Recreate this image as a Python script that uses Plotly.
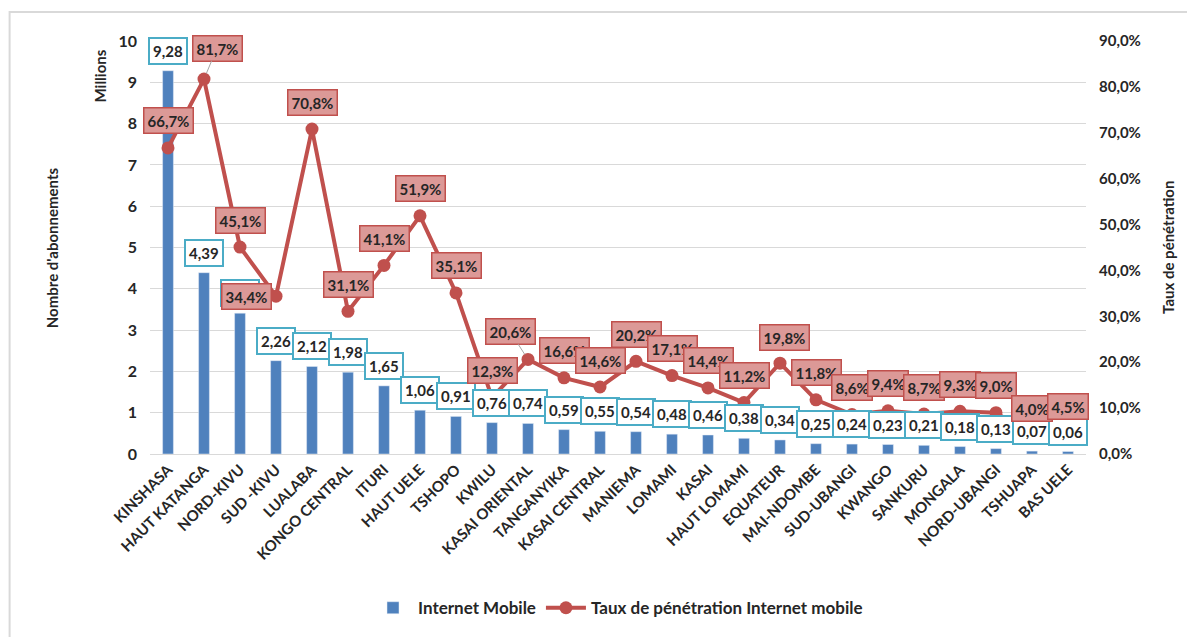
import plotly.graph_objects as go

# Data (millions of subscriptions, penetration rate in %)
provinces = ['KINSHASA', 'HAUT KATANGA', 'NORD-KIVU', 'SUD -KIVU', 'LUALABA', 'KONGO CENTRAL',
             'ITURI', 'HAUT UELE', 'TSHOPO', 'KWILU', 'KASAI ORIENTAL', 'TANGANYIKA',
             'KASAI CENTRAL', 'MANIEMA', 'LOMAMI', 'KASAI', 'HAUT LOMAMI', 'EQUATEUR',
             'MAI-NDOMBE', 'SUD-UBANGI', 'KWANGO', 'SANKURU', 'MONGALA', 'NORD-UBANGI',
             'TSHUAPA', 'BAS UELE']
abonnements = [9.28, 4.39, 3.41, 2.26, 2.12, 1.98, 1.65, 1.06, 0.91, 0.76, 0.74, 0.59, 0.55,
               0.54, 0.48, 0.46, 0.38, 0.34, 0.25, 0.24, 0.23, 0.21, 0.18, 0.13, 0.07, 0.06]
penetration = [66.7, 81.7, 45.1, 34.4, 70.8, 31.1, 41.1, 51.9, 35.1, 12.3, 20.6, 16.6, 14.6,
               20.2, 17.1, 14.4, 11.2, 19.8, 11.8, 8.6, 9.4, 8.7, 9.3, 9.0, 4.0, 4.5]

BLUE = '#4F81BD'
RED = '#C0504D'
TEAL = '#4BACC6'
TXT = '#262626'
FONT = 'Lato'

# label placement tweaks (pixels): (dx, dy up, leader line)
line_label_offsets = {
    'HAUT KATANGA': (13, 31, True),
    'SUD -KIVU': (-30, 0, False),
    'KASAI ORIENTAL': (-18, 28, True),
    'EQUATEUR': (4, 26, False),
}

fig = go.Figure()

fig.add_trace(go.Bar(
    x=provinces, y=abonnements, name='Internet Mobile',
    marker_color=BLUE, width=0.3, yaxis='y'
))

fig.add_trace(go.Scatter(
    x=provinces, y=penetration, name='Taux de pénétration Internet mobile',
    mode='lines+markers', yaxis='y2',
    line=dict(color=RED, width=4),
    marker=dict(color=RED, size=13)
))

annotations = []
for p, v in zip(provinces, abonnements):
    annotations.append(dict(
        x=p, y=v, xref='x', yref='y', yshift=20, showarrow=False,
        text=f'{v:.2f}'.replace('.', ','),
        font=dict(family=FONT, size=15, color=TXT, weight='bold'),
        bgcolor='white', bordercolor=TEAL, borderwidth=2, borderpad=3
    ))

for p, v in zip(provinces, penetration):
    dx, dy, leader = line_label_offsets.get(p, (0, 27, False))
    label = dict(
        x=p, y=v, xref='x', yref='y2',
        text=f'{v:.1f}%'.replace('.', ','),
        font=dict(family=FONT, size=15, color=TXT, weight='bold'),
        bgcolor='#DC9997', bordercolor=RED, borderwidth=1.5, borderpad=3
    )
    if leader:
        label.update(showarrow=True, ax=dx, ay=-dy, arrowhead=0,
                     arrowwidth=1, arrowcolor='#A6A6A6', standoff=6)
    else:
        label.update(showarrow=False, xshift=dx, yshift=dy)
    annotations.append(label)

# axis titles
title_font = dict(family=FONT, size=15, color=TXT, weight='bold')
annotations += [
    dict(text='Millions', xref='paper', yref='paper', x=-0.053, y=0.915,
         xanchor='center', yanchor='middle', textangle=-90, showarrow=False, font=title_font),
    dict(text="Nombre d'abonnements", xref='paper', yref='paper', x=-0.105, y=0.5,
         xanchor='center', yanchor='middle', textangle=-90, showarrow=False, font=title_font),
    dict(text='Taux de pénétration', xref='paper', yref='paper', x=1.087, y=0.5,
         xanchor='center', yanchor='middle', textangle=-90, showarrow=False, font=title_font),
]

# page body has an 8px margin, so the figure is shifted by 8px
fig.update_layout(
    width=1187, height=629,
    margin=dict(l=142, r=109, t=33, b=182),
    paper_bgcolor='white', plot_bgcolor='white',
    separators=', ',
    font=dict(family=FONT, color=TXT),
    xaxis=dict(
        tickangle=-45, showgrid=False, showline=True, linecolor='#D9D9D9', linewidth=1,
        tickfont=dict(family=FONT, size=15, color=TXT, weight='bold'),
        range=[-0.5, len(provinces) - 0.5]
    ),
    yaxis=dict(
        range=[0, 10], dtick=1, showgrid=True, gridcolor='#D9D9D9', gridwidth=1,
        zeroline=False, ticklabelstandoff=12,
        tickfont=dict(family=FONT, size=16, color=TXT, weight='bold')
    ),
    yaxis2=dict(
        range=[0, 90], dtick=10, overlaying='y', side='right', showgrid=False,
        zeroline=False, tickformat='.1f', ticksuffix='%', ticklabelstandoff=12,
        tickfont=dict(family=FONT, size=15, color=TXT, weight='bold')
    ),
    legend=dict(
        orientation='h', x=0.5, xanchor='center', y=-0.37, yanchor='middle',
        font=dict(family=FONT, size=17, color=TXT, weight='bold'),
        itemwidth=40
    ),
    annotations=annotations,
    shapes=[dict(type='rect', xref='paper', yref='paper',
                 x0=-0.15, x1=1.2, y0=-0.6, y1=1.070,
                 line=dict(color='#D9D9D9', width=2), fillcolor='rgba(0,0,0,0)', layer='below')]
)

fig.write_html("out.html")
